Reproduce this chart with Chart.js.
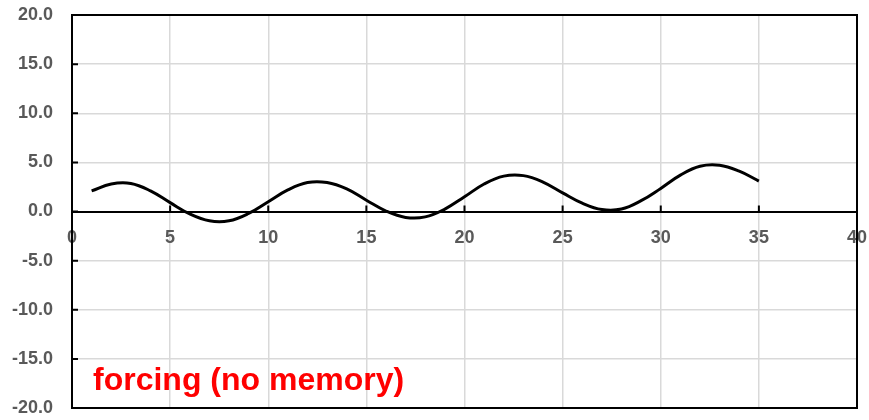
<!DOCTYPE html>
<html>
<head>
<meta charset="utf-8">
<script src="https://cdn.jsdelivr.net/npm/chart.js@4"></script>
<style>
  body { margin: 0; background: #fff; }
  #wrap { width: 869px; height: 420px; }
</style>
</head>
<body>
<div id="wrap"><canvas id="forcing-chart" width="869" height="420"></canvas></div>
<script>
// time steps and forcing values
const steps = [1, 2, 3, 4, 5, 6, 7, 8, 9, 10, 11, 12, 13, 14, 15, 16, 17, 18,
    19, 20, 21, 22, 23, 24, 25, 26, 27, 28, 29, 30, 31, 32, 33, 34, 35];
const forcing = [2.1, 2.8, 2.85, 2.1, 0.9, -0.25, -0.95, -0.95, -0.2, 1.0,
    2.2, 2.95, 2.95, 2.3, 1.15, 0.05, -0.6, -0.55, 0.25, 1.5,
    2.8, 3.6, 3.65, 3.0, 1.9, 0.85, 0.2, 0.25, 1.1, 2.35,
    3.7, 4.6, 4.7, 4.1, 3.1];
const xTicks = [0, 5, 10, 15, 20, 25, 30, 35, 40];
const yTicks = [-20, -15, -10, -5, 0, 5, 10, 15, 20];
const label = 'forcing (no memory)';

const tickFont = { family: 'Liberation Sans, Arial, sans-serif', size: 18, weight: 'bold' };
const gridColor = '#d9d9d9';

// black frame, inner tick marks and the red caption
const framePlugin = {
    id: 'frame',
    afterDraw(chart) {
        const { ctx, chartArea: a, scales } = chart;
        ctx.save();
        ctx.strokeStyle = '#000';
        ctx.lineWidth = 2;
        ctx.strokeRect(a.left, a.top, a.right - a.left, a.bottom - a.top);

        const zeroY = scales.y.getPixelForValue(0);
        ctx.beginPath();
        yTicks.forEach(v => {
            const py = scales.y.getPixelForValue(v);
            ctx.moveTo(a.left, py);
            ctx.lineTo(a.left + 6, py);
        });
        xTicks.forEach(v => {
            const px = scales.x.getPixelForValue(v);
            ctx.moveTo(px, zeroY);
            ctx.lineTo(px, zeroY - 6);
        });
        ctx.stroke();

        ctx.fillStyle = '#ff0000';
        ctx.font = 'bold 32px Liberation Sans, Arial, sans-serif';
        ctx.textBaseline = 'alphabetic';
        ctx.fillText(label, a.left + 21, a.bottom - 18);
        ctx.restore();
    }
};

const ctx = document.getElementById('forcing-chart').getContext('2d');
new Chart(ctx, {
    type: 'line',
    data: {
        datasets: [{
            data: steps.map((s, i) => ({ x: s, y: forcing[i] })),
            borderColor: '#000',
            borderWidth: 3,
            pointRadius: 0,
            tension: 0.4,
            fill: false
        }]
    },
    options: {
        responsive: false,
        animation: false,
        layout: { padding: { left: 0, top: 15, right: 12, bottom: 12 } },
        plugins: { legend: { display: false }, tooltip: { enabled: false } },
        scales: {
            x: {
                type: 'linear',
                position: { y: 0 },
                min: 0,
                max: 40,
                afterBuildTicks: s => { s.ticks = xTicks.map(v => ({ value: v })); },
                afterFit: s => {
                    s.height = 0;
                    s.paddingLeft = 0;
                    s.paddingRight = 0;
                    s.paddingTop = 0;
                    s.paddingBottom = 0;
                },
                grid: { color: gridColor, lineWidth: 1.5, drawTicks: false },
                border: { color: '#000', width: 2 },
                ticks: { color: '#595959', font: tickFont, padding: 16, maxRotation: 0 }
            },
            y: {
                min: -20,
                max: 20,
                afterBuildTicks: s => { s.ticks = yTicks.map(v => ({ value: v })); },
                afterFit: s => {
                    s.width = 72;
                    s.paddingTop = 0;
                    s.paddingBottom = 0;
                    s.paddingLeft = 0;
                    s.paddingRight = 0;
                },
                grid: { color: gridColor, lineWidth: 1.5, drawTicks: false },
                border: { color: '#000', width: 2 },
                ticks: {
                    color: '#595959',
                    font: tickFont,
                    padding: 19,
                    callback: v => v.toFixed(1)
                }
            }
        }
    },
    plugins: [framePlugin]
});
</script>
</body>
</html>
